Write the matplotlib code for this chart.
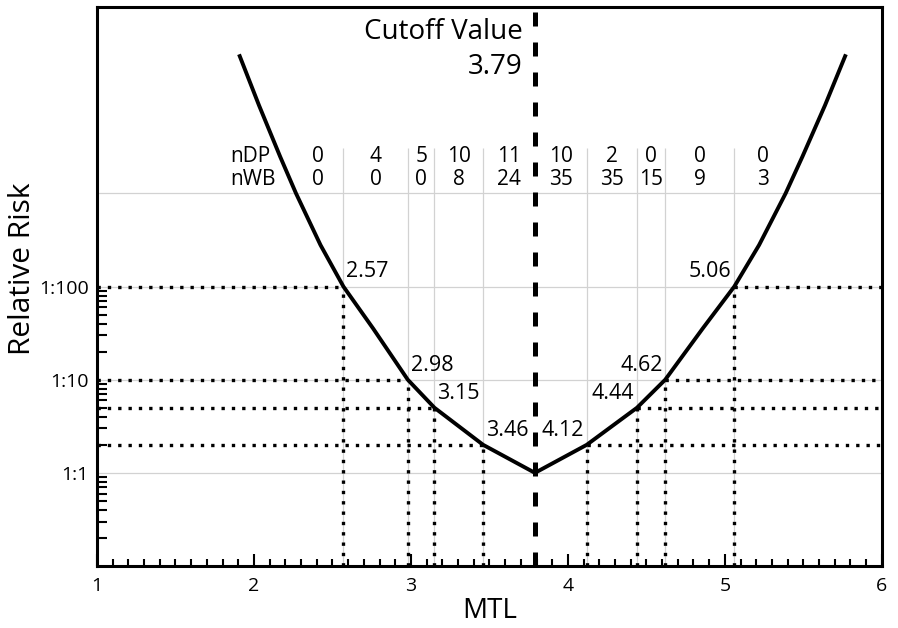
import matplotlib
matplotlib.use("Agg")
import matplotlib.pyplot as plt
from matplotlib.ticker import FixedLocator, MultipleLocator, NullFormatter
from matplotlib.transforms import blended_transform_factory

plt.rcParams["font.family"] = ["Open Sans", "DejaVu Sans"]

# relative risk curve, both branches meet at the cutoff
left_mtl = [1.905, 2.032, 2.167, 2.268, 2.424, 2.57, 2.759, 2.98, 3.15, 3.46, 3.79]
left_risk = [31100, 8830, 2480, 1000, 279, 100, 35.5, 10, 5, 2, 1]
right_mtl = [3.79, 4.12, 4.44, 4.62, 4.859, 5.06, 5.218, 5.387, 5.494, 5.638, 5.771]
right_risk = [1, 2, 5, 10, 35.5, 100, 279, 1000, 2480, 8830, 31100]

cutoff = 3.79

# risk levels and the MTL values where the curve crosses them
risk_levels = [100, 10, 5, 2]
left_cuts = [2.57, 2.98, 3.15, 3.46]
right_cuts = [5.06, 4.62, 4.44, 4.12]

# counts per MTL bin
bin_edges = [2.25, 2.57, 2.98, 3.15, 3.46, 3.79, 4.12, 4.44, 4.62, 5.06, 5.42]
n_dp = [0, 4, 5, 10, 11, 10, 2, 0, 0, 0]
n_wb = [0, 0, 0, 8, 24, 35, 35, 15, 9, 3]

ytick_vals = [1, 10, 100]
ytick_labels = ["1:1", "1:10", "1:100"]

fig = plt.figure(figsize=(8.98, 6.28), dpi=100)
ax = fig.add_axes([0.108, 0.0987, 0.874, 0.890])
ax.set_yscale("log")
ax.set_xlim(1, 6)
ax.set_ylim(0.1, 1e5)

grid_c = "#d2d2d2"
for lv in [1, 10, 100, 1000]:
    ax.axhline(lv, color=grid_c, lw=0.9, zorder=0)
for e in bin_edges[1:-1]:
    if e != cutoff:
        ax.vlines(e, 0.1, 3100, color=grid_c, lw=0.9, zorder=0)

# dotted guides from the axes to the curve
dot = dict(color="black", lw=2.4, linestyle=(0, (1, 2.1)), dash_capstyle="butt", zorder=2)
for lv, xl, xr in zip(risk_levels, left_cuts, right_cuts):
    ax.plot([1, xl], [lv, lv], **dot)
    ax.plot([xr, 6], [lv, lv], **dot)
    ax.plot([xl, xl], [0.1, lv], **dot)
    ax.plot([xr, xr], [0.1, lv], **dot)
    ax.annotate(f"{xl:.2f}", (xl, lv), xytext=(2, 3), textcoords="offset points",
                ha="left", va="bottom", fontsize=15.5)
    ax.annotate(f"{xr:.2f}", (xr, lv), xytext=(-2, 3), textcoords="offset points",
                ha="right", va="bottom", fontsize=15.5)

ax.plot(left_mtl, left_risk, color="black", lw=2.8, zorder=3,
        solid_capstyle="butt", solid_joinstyle="round")
ax.plot(right_mtl, right_risk, color="black", lw=2.8, zorder=3,
        solid_capstyle="butt", solid_joinstyle="round")

ax.plot([cutoff, cutoff], [0.1, 1e5], color="black", lw=3.6,
        linestyle=(0, (2.8, 3.2)), dash_capstyle="butt", zorder=4)

trans = blended_transform_factory(ax.transData, ax.transAxes)
ax.annotate("Cutoff Value", (cutoff, 0.956), xycoords=trans, xytext=(-9, 0),
            textcoords="offset points", ha="right", va="center", fontsize=20)
ax.annotate(f"{cutoff:.2f}", (cutoff, 0.893), xycoords=trans, xytext=(-9, 0),
            textcoords="offset points", ha="right", va="center", fontsize=20)

# count table above the curve
row_dp, row_wb = 2500, 1400
ax.text(1.85, row_dp, "nDP", ha="left", va="center", fontsize=15)
ax.text(1.85, row_wb, "nWB", ha="left", va="center", fontsize=15)
for lo, hi, a, b in zip(bin_edges[:-1], bin_edges[1:], n_dp, n_wb):
    xc = (lo + hi) / 2
    ax.text(xc, row_dp, str(a), ha="center", va="center", fontsize=15)
    ax.text(xc, row_wb, str(b), ha="center", va="center", fontsize=15)

for s in ax.spines.values():
    s.set_linewidth(2.2)

ax.xaxis.set_major_locator(MultipleLocator(1))
ax.xaxis.set_minor_locator(MultipleLocator(0.1))
ax.tick_params(axis="x", which="major", direction="in", length=8.5, width=1.5,
               labelsize=14, pad=8)
ax.tick_params(axis="x", which="minor", direction="in", length=5, width=1.5)

ax.yaxis.set_major_locator(FixedLocator(ytick_vals))
ax.set_yticklabels(ytick_labels)
ax.yaxis.set_minor_locator(FixedLocator([m * 10.0 ** p for p in (-1, 0, 1) for m in range(2, 10)]))
ax.yaxis.set_minor_formatter(NullFormatter())
ax.tick_params(axis="y", which="major", length=0, labelsize=14, pad=6)
ax.tick_params(axis="y", which="minor", direction="in", length=7, width=1.5)

ax.set_xlabel("MTL", fontsize=20)
ax.set_ylabel("Relative Risk", fontsize=21.5)
ax.xaxis.set_label_coords(0.5, -0.055)
ax.yaxis.set_label_coords(-0.077, 0.531)

fig.savefig("out.png", dpi=100)
